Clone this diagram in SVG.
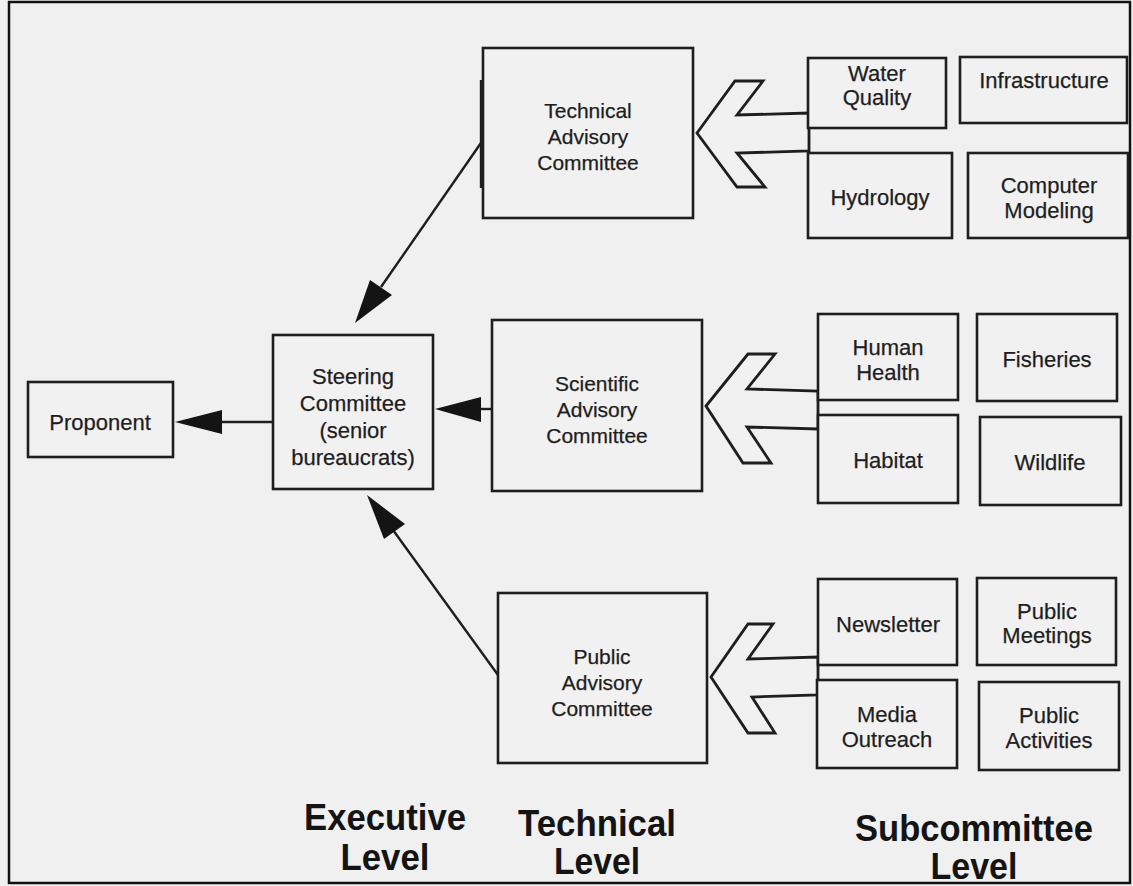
<svg xmlns="http://www.w3.org/2000/svg" width="1133" height="886" viewBox="0 0 1133 886">
<style>
.bx{fill:#f1f1f1;stroke:#1e1e1e;stroke-width:2.6}
.t{font-family:"Liberation Sans",Arial,sans-serif;font-size:22px;fill:#1e1e1e;text-anchor:middle;stroke:#1e1e1e;stroke-width:0.25}
.t2{font-family:"Liberation Sans",Arial,sans-serif;font-size:21px;fill:#1e1e1e;text-anchor:middle;stroke:#1e1e1e;stroke-width:0.25}
.lv{font-family:"Liberation Sans",Arial,sans-serif;font-size:36px;font-weight:bold;fill:#141414;text-anchor:middle}
.ln{stroke:#1e1e1e;stroke-width:2.4;fill:none}
.hd{fill:#141414;stroke:none}
.ha{fill:#f1f1f1;stroke:#1e1e1e;stroke-width:2.8;stroke-linejoin:miter}
</style>
<rect x="0" y="0" width="1133" height="886" fill="#f0f0f0"/>
<rect x="9" y="2" width="1121" height="881" fill="none" stroke="#111" stroke-width="2.5"/>

<g id="connectors">
  <line class="ln" x1="273" y1="422" x2="215" y2="422"/>
  <polygon class="hd" points="175,422 222,410 222,434"/>
  <line class="ln" x1="492" y1="409" x2="475" y2="409"/>
  <polygon class="hd" points="435,409 481,397 481,422"/>
  <line class="ln" x1="483" y1="140" x2="381" y2="287"/>
  <polygon class="hd" points="355,323 370,280 392,295"/>
  <line class="ln" x1="498" y1="675" x2="393" y2="530"/>
  <polygon class="hd" points="367,495 405,524 384,539"/>
  <polygon class="ha" points="697,133 735,81 763,81 737,115 809,113 809,151 737,153 765,187 737,187"/>
  <polygon class="ha" points="706,406 748,354 775,354 747,389 818,391 818,429 747,427 771,463 743,463"/>
  <polygon class="ha" points="711,677 748,624 773,624 748,659 818,657 818,695 752,697 775,733 748,733"/>
</g>

<g id="proponent">
  <rect class="bx" x="28" y="382" width="145" height="75"/>
  <text class="t" x="100" y="430">Proponent</text>
</g>
<g id="steering">
  <rect class="bx" x="273" y="335" width="160" height="154"/>
  <text class="t" x="353" y="384">Steering</text>
  <text class="t" x="353" y="411">Committee</text>
  <text class="t" x="353" y="438">(senior</text>
  <text class="t" x="353" y="465">bureaucrats)</text>
</g>
<g id="technical-advisory">
  <rect class="bx" x="483" y="48" width="210" height="170"/>
  <line class="ln" x1="481" y1="80" x2="481" y2="188" stroke-width="2"/>
  <text class="t2" x="588" y="118">Technical</text>
  <text class="t2" x="588" y="144">Advisory</text>
  <text class="t2" x="588" y="170">Committee</text>
</g>
<g id="scientific-advisory">
  <rect class="bx" x="492" y="320" width="210" height="171"/>
  <text class="t2" x="597" y="391">Scientific</text>
  <text class="t2" x="597" y="417">Advisory</text>
  <text class="t2" x="597" y="443">Committee</text>
</g>
<g id="public-advisory">
  <rect class="bx" x="498" y="593" width="209" height="170"/>
  <text class="t2" x="602" y="664">Public</text>
  <text class="t2" x="602" y="690">Advisory</text>
  <text class="t2" x="602" y="716">Committee</text>
</g>

<g id="water-quality">
  <rect class="bx" x="808" y="58" width="138" height="70"/>
  <text class="t" x="877" y="81">Water</text>
  <text class="t" x="877" y="105">Quality</text>
</g>
<g id="infrastructure">
  <rect class="bx" x="960" y="57" width="167" height="66"/>
  <text class="t" x="1044" y="88">Infrastructure</text>
</g>
<g id="hydrology">
  <rect class="bx" x="808" y="153" width="144" height="85"/>
  <text class="t" x="880" y="205">Hydrology</text>
</g>
<g id="computer-modeling">
  <rect class="bx" x="968" y="153" width="160" height="85"/>
  <text class="t" x="1049" y="193">Computer</text>
  <text class="t" x="1049" y="218">Modeling</text>
</g>

<g id="human-health">
  <rect class="bx" x="818" y="314" width="140" height="86"/>
  <text class="t" x="888" y="355">Human</text>
  <text class="t" x="888" y="380">Health</text>
</g>
<g id="fisheries">
  <rect class="bx" x="977" y="314" width="140" height="87"/>
  <text class="t" x="1047" y="367">Fisheries</text>
</g>
<g id="habitat">
  <rect class="bx" x="818" y="415" width="140" height="88"/>
  <text class="t" x="888" y="468">Habitat</text>
</g>
<g id="wildlife">
  <rect class="bx" x="980" y="417" width="141" height="88"/>
  <text class="t" x="1050" y="470">Wildlife</text>
</g>

<g id="newsletter">
  <rect class="bx" x="818" y="579" width="139" height="86"/>
  <text class="t" x="888" y="632">Newsletter</text>
</g>
<g id="public-meetings">
  <rect class="bx" x="977" y="578" width="139" height="87"/>
  <text class="t" x="1047" y="619">Public</text>
  <text class="t" x="1047" y="643">Meetings</text>
</g>
<g id="media-outreach">
  <rect class="bx" x="817" y="680" width="140" height="88"/>
  <text class="t" x="887" y="722">Media</text>
  <text class="t" x="887" y="747">Outreach</text>
</g>
<g id="public-activities">
  <rect class="bx" x="979" y="682" width="140" height="88"/>
  <text class="t" x="1049" y="723">Public</text>
  <text class="t" x="1049" y="748">Activities</text>
</g>

<g id="levels">
  <text class="lv" x="385" y="830" textLength="162" lengthAdjust="spacingAndGlyphs">Executive</text>
  <text class="lv" x="385" y="870" textLength="89" lengthAdjust="spacingAndGlyphs">Level</text>
  <text class="lv" x="597" y="836" textLength="158" lengthAdjust="spacingAndGlyphs">Technical</text>
  <text class="lv" x="597" y="874" textLength="86" lengthAdjust="spacingAndGlyphs">Level</text>
  <text class="lv" x="974" y="841" textLength="238" lengthAdjust="spacingAndGlyphs">Subcommittee</text>
  <text class="lv" x="974" y="879" textLength="87" lengthAdjust="spacingAndGlyphs">Level</text>
</g>
</svg>
